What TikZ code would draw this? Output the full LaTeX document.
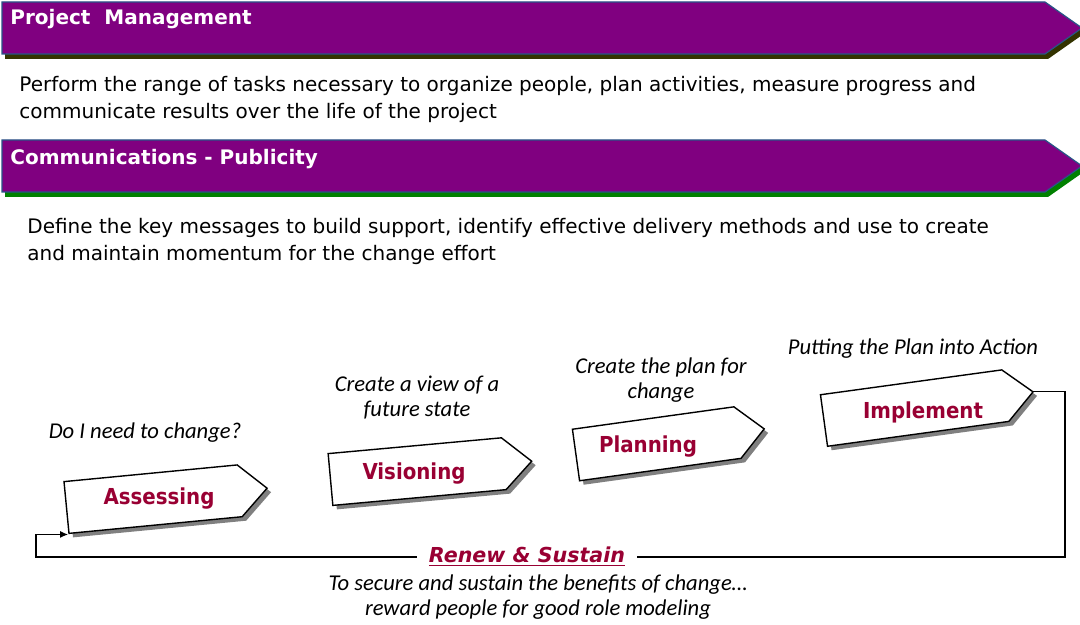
\documentclass[tikz,border=0pt]{standalone}
\usepackage{fontspec}
\setmainfont{DejaVu Sans}
\newfontfamily\narrowfont{DejaVu Sans Condensed}
\newfontfamily\capfont{Carlito}
\usetikzlibrary{positioning,shadows,arrows.meta}
\definecolor{bannerfill}{RGB}{128,0,128}
\definecolor{bannerline}{RGB}{40,85,135}
\definecolor{shadeone}{RGB}{51,51,0}
\definecolor{shadetwo}{RGB}{0,128,0}
\definecolor{stagered}{RGB}{153,0,51}
\tikzstyle{banner} = [draw=bannerline,fill=bannerfill,line width=0.6pt]
\tikzstyle{header} = [anchor=west,inner sep=0,text=white,font=\fontsize{10}{12}\selectfont\bfseries]
\tikzstyle{body} = [anchor=west,align=left,inner sep=0,font=\fontsize{10}{13.5}\selectfont]
\tikzstyle{stage} = [draw,fill=white,line width=0.7pt,drop shadow={shadow xshift=2pt,shadow yshift=-2pt,fill=gray,opacity=1}]
\tikzstyle{stagetext} = [inner sep=0,text=stagered,font=\narrowfont\fontsize{11}{13}\selectfont\bfseries]
\tikzstyle{note} = [align=center,inner sep=0,font=\capfont\fontsize{11.3}{12.5}\selectfont\itshape]
\tikzstyle{arrow} = [-{Latex[length=4pt,width=3.5pt]}]

\begin{document}
\begin{tikzpicture}[x=0.5pt,y=-0.5pt]
    \useasboundingbox (0,0) rectangle (1080,625);

    % banners
    \draw [banner,drop shadow={shadow xshift=1.5pt,shadow yshift=-2.5pt,fill=shadeone,opacity=1}]
        (2,2) -- (1045,2) -- (1082,28) -- (1045,54) -- (2,54) -- cycle;
    \draw [banner,drop shadow={shadow xshift=1.5pt,shadow yshift=-2.5pt,fill=shadetwo,opacity=1}]
        (2,140) -- (1045,140) -- (1082,166) -- (1045,192) -- (2,192) -- cycle;
    \node [header] (h1) at (10,19) {Project\ \ Management};
    \node [header] (h2) at (10,159) {Communications - Publicity};
    \node [body] (t1) at (19,99) {Perform the range of tasks necessary to organize people, plan activities, measure progress and\\communicate results over the life of the project};
    \node [body] (t2) at (27,241) {Define the key messages to build support, identify effective delivery methods and use to create\\and maintain momentum for the change effort};

    % stages
    \begin{scope}[shift={(66.5,507.5)},rotate=5.5]
        \draw [stage] (0,-26) -- (174,-26) -- (201.5,0) -- (174,26) -- (0,26) -- cycle;
        \coordinate (s1in) at (-1,27);
    \end{scope}
    \begin{scope}[shift={(330.5,479.5)},rotate=5.2]
        \draw [stage] (0,-26) -- (174,-26) -- (202,0) -- (174,26) -- (0,26) -- cycle;
    \end{scope}
    \begin{scope}[shift={(576,455)},rotate=7.9]
        \draw [stage] (0,-26) -- (163,-26) -- (190,0) -- (163,26) -- (0,26) -- cycle;
    \end{scope}
    \begin{scope}[shift={(824,420.5)},rotate=7.8]
        \draw [stage] (0,-26) -- (183,-26) -- (211,0) -- (183,26) -- (0,26) -- cycle;
        \coordinate (s4out) at (211,0);
    \end{scope}
    \node [stagetext] (s1) at (159,498.5) {Assessing};
    \node [stagetext] (s2) at (414,473.5) {Visioning};
    \node [stagetext] (s3) at (648,446.5) {Planning};
    \node [stagetext] (s4) at (923,412.5) {Implement};

    \node [note] (c1) at (145,433) {Do I need to change?};
    \node [note] (c2) at (417,398) {Create a view of a\\future state};
    \node [note] (c3) at (661,380) {Create the plan for\\change};
    \node [note] (c4) at (913,349) {Putting the Plan into Action};

    % renew loop
    \node [fill=white,inner xsep=6pt,inner ysep=1pt,text=stagered,font=\fontsize{10.3}{12}\selectfont\bfseries\itshape] (r) at (527,557) {\underline{Renew \& Sustain}};
    \draw [line width=0.6pt] (s4out) -- ++(32,0) |- (r.east);
    \draw [arrow,line width=0.6pt] (r.west) -| ([xshift=-16pt]s1in) -- (s1in);
    \node [note] (n) at (538,597) {To secure and sustain the benefits of change\ldots\\reward people for good role modeling};
\end{tikzpicture}
\end{document}
